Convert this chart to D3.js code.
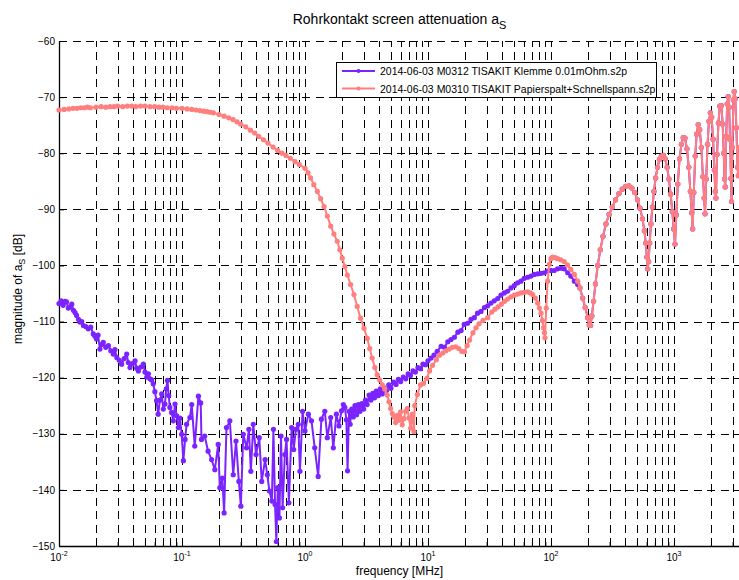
<!DOCTYPE html>
<html>
<head>
<meta charset="utf-8">
<script src="https://cdn.jsdelivr.net/npm/d3@7"></script>
<style>
  body { margin: 0; background: #fff; }
  svg text { font-family: "Liberation Sans", Arial, sans-serif; fill: #000; }
</style>
</head>
<body>
<div id="chart-area"></div>
<script>
// screen attenuation of two pipe contacts, frequency in MHz, magnitude in dB

const SERIES_NAMES = [
  "2014-06-03 M0312 TISAKIT Klemme 0.01mOhm.s2p",
  "2014-06-03 M0310 TISAKIT Papierspalt+Schnellspann.s2p"
]
const SERIES_COLORS = ["#7b24ff", "#ff7f7f"]

const Y_TICKS = [-150, -140, -130, -120, -110, -100, -90, -80, -70, -60]
const X_DECADES = [-2, -1, 0, 1, 2, 3]

// clamp measurement, below 10 MHz
const klemmeLow = [
  [0.0100,-106.8],[0.0104,-106.3],[0.0108,-107.1],[0.0112,-106.4],[0.0115,-106.5],[0.0119,-107.6],
  [0.0123,-107.4],[0.0127,-106.9],[0.0131,-108.0],[0.0135,-108.4],[0.0139,-108.9],[0.0144,-109.6],
  [0.0148,-110.1],[0.0153,-110.0],[0.0158,-110.7],[0.0165,-110.9],[0.0173,-111.3],[0.0181,-111.0],
  [0.0190,-112.2],[0.0196,-112.6],[0.0202,-113.1],[0.0208,-112.4],[0.0215,-114.9],[0.0222,-114.1],
  [0.0229,-113.7],[0.0240,-114.6],[0.0252,-114.3],[0.0264,-115.2],[0.0276,-115.8],[0.0285,-115.0],
  [0.0295,-116.4],[0.0309,-116.9],[0.0323,-117.6],[0.0339,-116.6],[0.0355,-115.8],[0.0366,-117.3],
  [0.0378,-118.2],[0.0396,-117.5],[0.0415,-117.0],[0.0428,-118.3],[0.0442,-118.8],[0.0463,-118.1],
  [0.0485,-117.6],[0.0500,-119.0],[0.0517,-119.9],[0.0533,-119.3],[0.0550,-120.2],[0.0567,-120.4],
  [0.0584,-121.1],[0.0602,-122.5],[0.0621,-124.1],[0.0640,-126.5],[0.0662,-124.0],[0.0684,-122.9],
  [0.0705,-125.6],[0.0727,-124.7],[0.0745,-122.0],[0.0762,-120.5],[0.0780,-123.2],[0.0797,-125.3],
  [0.0823,-126.2],[0.0850,-127.7],[0.0877,-124.7],[0.0905,-126.8],[0.0934,-128.9],[0.0964,-127.2],
  [0.0994,-130.1],[0.1026,-134.8],[0.1060,-131.0],[0.109,-128.3],[0.116,-127.1],[0.120,-124.8],
  [0.127,-132.2],[0.136,-123.3],[0.142,-124.5],[0.144,-131.0],[0.153,-130.4],[0.163,-133.1],
  [0.174,-134.6],[0.185,-136.4],[0.197,-131.9],[0.203,-139.6],[0.213,-137.9],[0.220,-144.1],
  [0.230,-128.9],[0.245,-127.7],[0.261,-137.3],[0.275,-131.3],[0.290,-138.5],[0.301,-142.9],
  [0.315,-130.1],[0.335,-132.5],[0.350,-129.2],[0.363,-136.7],[0.380,-128.3],[0.400,-133.7],
  [0.425,-130.7],[0.445,-138.5],[0.474,-134.6],[0.494,-137.3],[0.514,-140.2],[0.538,-142.0],
  [0.554,-129.2],[0.571,-142.6],[0.585,-149.2],[0.601,-139.6],[0.620,-145.0],[0.638,-130.4],
  [0.658,-143.2],[0.686,-133.7],[0.708,-131.0],[0.740,-142.3],[0.779,-128.9],[0.810,-132.8],
  [0.843,-129.2],[0.882,-128.3],[0.910,-136.7],[0.956,-126.0],[1.00,-129.5],[1.066,-126.5],
  [1.13,-127.7],[1.20,-132.5],[1.28,-137.6],[1.36,-127.4],[1.45,-126.0],[1.52,-130.7],
  [1.62,-127.1],[1.70,-132.5],[1.80,-126.5],[1.89,-128.6],[1.98,-125.9],[2.05,-124.8],
  [2.11,-125.3],[2.17,-127.5],[2.22,-136.6],[2.28,-126.0],[2.33,-128.3],[2.40,-125.6],
  [2.47,-127.0],[2.55,-125.0],[2.63,-126.6],[2.72,-124.8],[2.80,-126.0],[2.90,-124.6],
  [3.00,-125.6],[3.10,-124.0],[3.20,-124.8],[3.32,-123.1],[3.44,-124.0],[3.56,-122.8],
  [3.68,-123.6],[3.80,-122.4],[3.95,-123.2],[4.10,-122.0],[4.25,-122.9],[4.40,-121.8],
  [4.60,-122.3],[4.80,-121.3],[5.00,-121.9],[5.25,-120.8],[5.50,-121.2],[5.75,-120.3],
  [6.00,-120.7],[6.30,-119.9],[6.60,-120.2],[6.90,-119.3],[7.20,-119.6],[7.55,-118.8],
  [7.90,-119.0],[8.30,-118.2],[8.70,-118.4],[9.10,-117.6],[9.55,-117.7]
]

// clamp measurement, 10 to 165 MHz
const klemmeMid = [
  [10.0,-117.0],[10.6,-116.5],[11.2,-116.0],[11.9,-115.3],[12.8,-114.4],[13.6,-114.6],
  [14.5,-113.6],[15.4,-113.2],[16.4,-112.8],[17.5,-111.9],[18.6,-111.6],[19.7,-110.5],
  [21.0,-110.3],[22.4,-109.6],[23.8,-109.3],[25.3,-108.5],[27.0,-108.2],[28.8,-107.5],
  [30.6,-107.2],[32.5,-106.7],[34.6,-106.3],[36.9,-105.9],[39.2,-105.3],[41.7,-104.9],
  [44.4,-104.6],[47.3,-104.0],[50.3,-103.6],[53.6,-103.1],[57.0,-102.8],[60.6,-102.3],
  [64.6,-102.1],[68.8,-101.9],[73.2,-101.6],[78.0,-101.5],[83.0,-101.4],[88.3,-101.3],
  [94.0,-101.0],[100,-100.9],[106,-100.9],[113,-100.6],[121,-100.5],[128,-100.6],
  [137,-101.3],[145,-101.9],[155,-102.8],[165,-103.4]
]

// paper gap + quick clamp, below 10 MHz
const papierLow = [
  [0.010,-72.3],[0.011,-72.2],[0.012,-72.1],[0.013,-72.0],[0.014,-72.0],[0.015,-71.9],
  [0.016,-71.9],[0.017,-71.8],[0.018,-71.9],[0.020,-71.8],[0.022,-71.7],[0.024,-71.8],
  [0.026,-71.7],[0.028,-71.7],[0.030,-71.6],[0.033,-71.7],[0.036,-71.6],[0.039,-71.6],
  [0.042,-71.7],[0.046,-71.6],[0.050,-71.6],[0.055,-71.7],[0.060,-71.7],[0.065,-71.8],
  [0.070,-71.8],[0.076,-71.9],[0.083,-71.9],[0.090,-72.0],[0.100,-72.0],[0.110,-72.1],
  [0.120,-72.2],[0.130,-72.3],[0.140,-72.4],[0.150,-72.5],[0.160,-72.6],[0.170,-72.7],
  [0.180,-72.8],[0.200,-73.1],[0.220,-73.4],[0.240,-73.7],[0.260,-74.0],[0.280,-74.4],
  [0.300,-74.8],[0.330,-75.3],[0.360,-75.9],[0.390,-76.4],[0.420,-77.0],[0.460,-77.6],
  [0.500,-78.2],[0.550,-78.9],[0.600,-79.5],[0.650,-80.0],[0.700,-80.4],[0.760,-80.9],
  [0.830,-81.5],[0.900,-82.0],[1.00,-82.7],[1.06,-83.5],[1.11,-84.4],[1.18,-85.6],
  [1.26,-86.8],[1.34,-88.1],[1.43,-89.5],[1.52,-91.2],[1.62,-93.0],[1.72,-94.4],
  [1.83,-95.7],[1.92,-97.2],[2.01,-98.7],[2.11,-100.2],[2.21,-101.7],[2.35,-103.4],
  [2.50,-105.2],[2.66,-107.3],[2.83,-109.4],[3.02,-111.2],[3.21,-113.0],[3.36,-114.8],
  [3.52,-116.5],[3.70,-118.2],[3.87,-119.5],[4.05,-120.4],[4.25,-121.3],[4.45,-122.0],
  [4.67,-123.1],[4.82,-124.3],[4.97,-125.5],[5.13,-126.4],[5.29,-127.0],[5.46,-128.0],
  [5.63,-126.7],[5.81,-127.6],[5.99,-126.1],[6.18,-128.4],[6.37,-127.3],[6.58,-126.0],
  [6.79,-125.5],[7.00,-127.2],[7.23,-129.0],[7.46,-126.5],[7.70,-129.6],[7.80,-125.0],
  [8.20,-123.0],[8.70,-121.3],[9.20,-121.0],[9.80,-120.1]
]

// paper gap + quick clamp, 10 to 165 MHz
const papierMid = [
  [10.3,-118.8],[10.9,-117.8],[11.7,-116.8],[12.4,-116.0],[13.2,-115.6],[14.0,-115.2],
  [14.9,-114.9],[15.8,-114.6],[16.8,-114.5],[17.8,-114.8],[18.8,-115.3],[19.8,-115.4],
  [20.8,-114.3],[21.8,-113.3],[23.2,-112.0],[24.6,-111.1],[26.0,-110.4],[28.0,-109.8],
  [30.6,-109.3],[33.0,-108.3],[35.0,-107.8],[37.2,-107.4],[39.5,-106.9],[42.0,-106.4],
  [44.5,-106.0],[47.3,-105.6],[50.3,-105.3],[53.5,-105.1],[57.0,-104.9],[60.5,-104.8],
  [64.5,-104.7],[68.0,-104.9],[71.0,-105.2],[74.5,-105.8],[78.0,-106.7],[80.5,-107.6],
  [83.0,-108.5],[85.2,-109.8],[87.2,-111.1],[88.5,-112.0],[89.4,-112.9],[91.6,-107.6],
  [93.9,-102.8],[96.9,-99.8],[100,-98.8],[103,-98.5],[108,-98.6],[113,-98.8],
  [120,-99.0],[128,-99.3],[136,-99.9],[145,-100.7],[155,-101.6],[165,-102.8]
]

// both measurements coincide above 170 MHz
const upperBand = [
  [172,-104.0],[181,-105.8],[190,-107.5],[199,-109.3],[205,-110.6],[210,-110.7],
  [215,-109.0],[222,-106.4],[230,-103.3],[240,-100.0],[252,-97.2],[265,-94.8],
  [280,-92.6],[297,-90.9],[315,-89.6],[335,-88.3],[357,-87.2],[380,-86.4],
  [405,-85.9],[430,-85.8],[455,-86.2],[480,-87.0],[505,-88.3],[530,-89.8],
  [555,-91.7],[575,-93.8],[590,-96.0],[602,-98.5],[612,-100.6],[622,-99.3],
  [635,-96.0],[650,-92.6],[668,-89.6],[688,-86.8],[710,-84.4],[735,-82.5],
  [762,-81.1],[790,-80.5],[820,-80.4],[850,-81.0],[880,-82.5],[910,-84.6],
  [940,-87.3],[970,-90.4],[995,-93.5],[1020,-96.2],[1045,-91.0],[1075,-85.5],
  [1110,-81.0],[1150,-78.4],[1190,-77.2],[1230,-77.3],[1275,-79.2],[1320,-82.5],
  [1360,-86.8],[1395,-90.6],[1420,-93.5],[1450,-87.0],[1490,-80.5],[1530,-76.6],
  [1575,-74.9],[1620,-75.8],[1670,-79.0],[1720,-84.2],[1760,-88.0],[1790,-90.8],
  [1830,-84.6],[1875,-78.4],[1925,-74.3],[1975,-72.8],[2025,-73.6],[2080,-77.5],
  [2130,-83.0],[2170,-86.8],[2195,-88.0],[2240,-80.2],[2300,-74.6],[2360,-71.6],
  [2430,-71.5],[2490,-74.8],[2540,-80.0],[2580,-84.6],[2610,-86.0],[2660,-77.0],
  [2710,-71.2],[2760,-69.9],[2810,-71.8],[2860,-77.5],[2910,-84.5],[2940,-88.6],
  [2990,-79.0],[3040,-70.5],[3090,-69.0],[3150,-70.3],[3220,-75.5],[3290,-82.5],
  [3340,-84.0],[3400,-79.0]
]

const series = [
  klemmeLow.concat(klemmeMid, upperBand),
  papierLow.concat(papierMid, upperBand)
]

const WIDTH = 739
const HEIGHT = 580
const PLOT = { LEFT: 59, RIGHT: 740, TOP: 41, BOTTOM: 546 }
const MARK_R = 2.6

const svg = d3.select("#chart-area").append("svg")
  .attr("width", WIDTH)
  .attr("height", HEIGHT)

// Scales
const x = d3.scaleLog()
  .domain([0.01, 3444])
  .range([PLOT.LEFT, PLOT.RIGHT])
const y = d3.scaleLinear()
  .domain([-150, -60])
  .range([PLOT.BOTTOM, PLOT.TOP])

// log grid values: 1..9 times each decade inside the domain
const minorX = []
X_DECADES.forEach(e => {
  for (let m = 1; m < 10; m++) {
    const v = m * Math.pow(10, e)
    if (v <= x.domain()[1]) minorX.push(v)
  }
})

// Grid
const grid = svg.append("g")
  .attr("stroke", "#000")
  .attr("stroke-width", 1)
  .attr("stroke-dasharray", "8,5.5")
  .attr("shape-rendering", "crispEdges")

grid.selectAll(".vgrid")
  .data(minorX)
  .enter().append("line")
  .attr("class", "vgrid")
  .attr("x1", d => Math.round(x(d)) + 0.5)
  .attr("x2", d => Math.round(x(d)) + 0.5)
  .attr("y1", PLOT.BOTTOM)
  .attr("y2", PLOT.TOP)

grid.selectAll(".hgrid")
  .data(Y_TICKS.filter(d => d > -150))
  .enter().append("line")
  .attr("class", "hgrid")
  .attr("x1", PLOT.LEFT)
  .attr("x2", PLOT.RIGHT)
  .attr("y1", d => Math.round(y(d)) + 0.5)
  .attr("y2", d => Math.round(y(d)) + 0.5)

// Axes
const xAxisCall = d3.axisBottom(x)
  .tickValues(minorX)
  .tickSizeInner(-4)
  .tickSizeOuter(0)
  .tickFormat("")
svg.append("g")
  .attr("class", "x axis")
  .attr("transform", `translate(0, ${PLOT.BOTTOM})`)
  .call(xAxisCall)

const yAxisCall = d3.axisLeft(y)
  .tickValues(Y_TICKS)
  .tickSizeInner(-5)
  .tickSizeOuter(0)
  .tickPadding(4)
svg.append("g")
  .attr("class", "y axis")
  .attr("transform", `translate(${PLOT.LEFT}, 0)`)
  .call(yAxisCall)

svg.selectAll(".axis path").attr("stroke", "#000").attr("stroke-width", 1.3)
svg.selectAll(".axis line").attr("stroke", "#000")
svg.selectAll(".y.axis text")
  .attr("font-size", "10px")
  .style("font-family", "'Liberation Sans', Arial, sans-serif")

// decade labels as 10 with a raised exponent
const decadeLabels = svg.append("g")
  .selectAll("text")
  .data(X_DECADES)
  .enter().append("text")
  .attr("x", d => x(Math.pow(10, d)))
  .attr("y", PLOT.BOTTOM + 15)
  .attr("text-anchor", "middle")
  .attr("font-size", "10px")
decadeLabels.append("tspan").text("10")
decadeLabels.append("tspan")
  .attr("dy", -5)
  .attr("font-size", "7px")
  .text(d => d)

// Lines and markers
const line = d3.line()
  .x(d => x(d[0]))
  .y(d => y(d[1]))

series.forEach((data, i) => {
  const g = svg.append("g")
  g.append("path")
    .datum(data)
    .attr("fill", "none")
    .attr("stroke", SERIES_COLORS[i])
    .attr("stroke-width", 2)
    .attr("stroke-linejoin", "round")
    .attr("d", line)
  g.selectAll("circle")
    .data(data)
    .enter().append("circle")
    .attr("cx", d => x(d[0]))
    .attr("cy", d => y(d[1]))
    .attr("r", MARK_R)
    .attr("fill", SERIES_COLORS[i])
})

// Labels
const title = svg.append("text")
  .attr("x", (PLOT.LEFT + PLOT.RIGHT) / 2)
  .attr("y", 24)
  .attr("text-anchor", "middle")
  .attr("font-size", "14px")
title.append("tspan").text("Rohrkontakt screen attenuation a")
title.append("tspan").attr("dy", 5).attr("font-size", "11px").text("S")

const yLabel = svg.append("text")
  .attr("transform", "rotate(-90)")
  .attr("x", -289)
  .attr("y", 22)
  .attr("text-anchor", "middle")
  .attr("font-size", "12px")
yLabel.append("tspan").text("magnitude of a")
yLabel.append("tspan").attr("dy", 3).attr("font-size", "9px").text("S")
yLabel.append("tspan").attr("dy", -3).text(" [dB]")

svg.append("text")
  .attr("x", (PLOT.LEFT + PLOT.RIGHT) / 2)
  .attr("y", 575)
  .attr("text-anchor", "middle")
  .attr("font-size", "12px")
  .text("frequency [MHz]")

// Legend
const legend = svg.append("g")
  .attr("transform", "translate(336, 62)")

legend.append("rect")
  .attr("x", 0.5)
  .attr("y", 0.5)
  .attr("width", 320)
  .attr("height", 35)
  .attr("fill", "#fff")
  .attr("stroke", "#000")

SERIES_NAMES.forEach((name, i) => {
  const row = legend.append("g")
    .attr("transform", `translate(0, ${9 + i * 17.5})`)
  row.append("line")
    .attr("x1", 6)
    .attr("x2", 39)
    .attr("stroke", SERIES_COLORS[i])
    .attr("stroke-width", 2)
  row.append("circle")
    .attr("cx", 22.5)
    .attr("r", 2.1)
    .attr("fill", SERIES_COLORS[i])
  row.append("text")
    .attr("x", 44)
    .attr("y", 4)
    .attr("font-size", "10.5px")
    .text(name)
})
</script>
</body>
</html>
